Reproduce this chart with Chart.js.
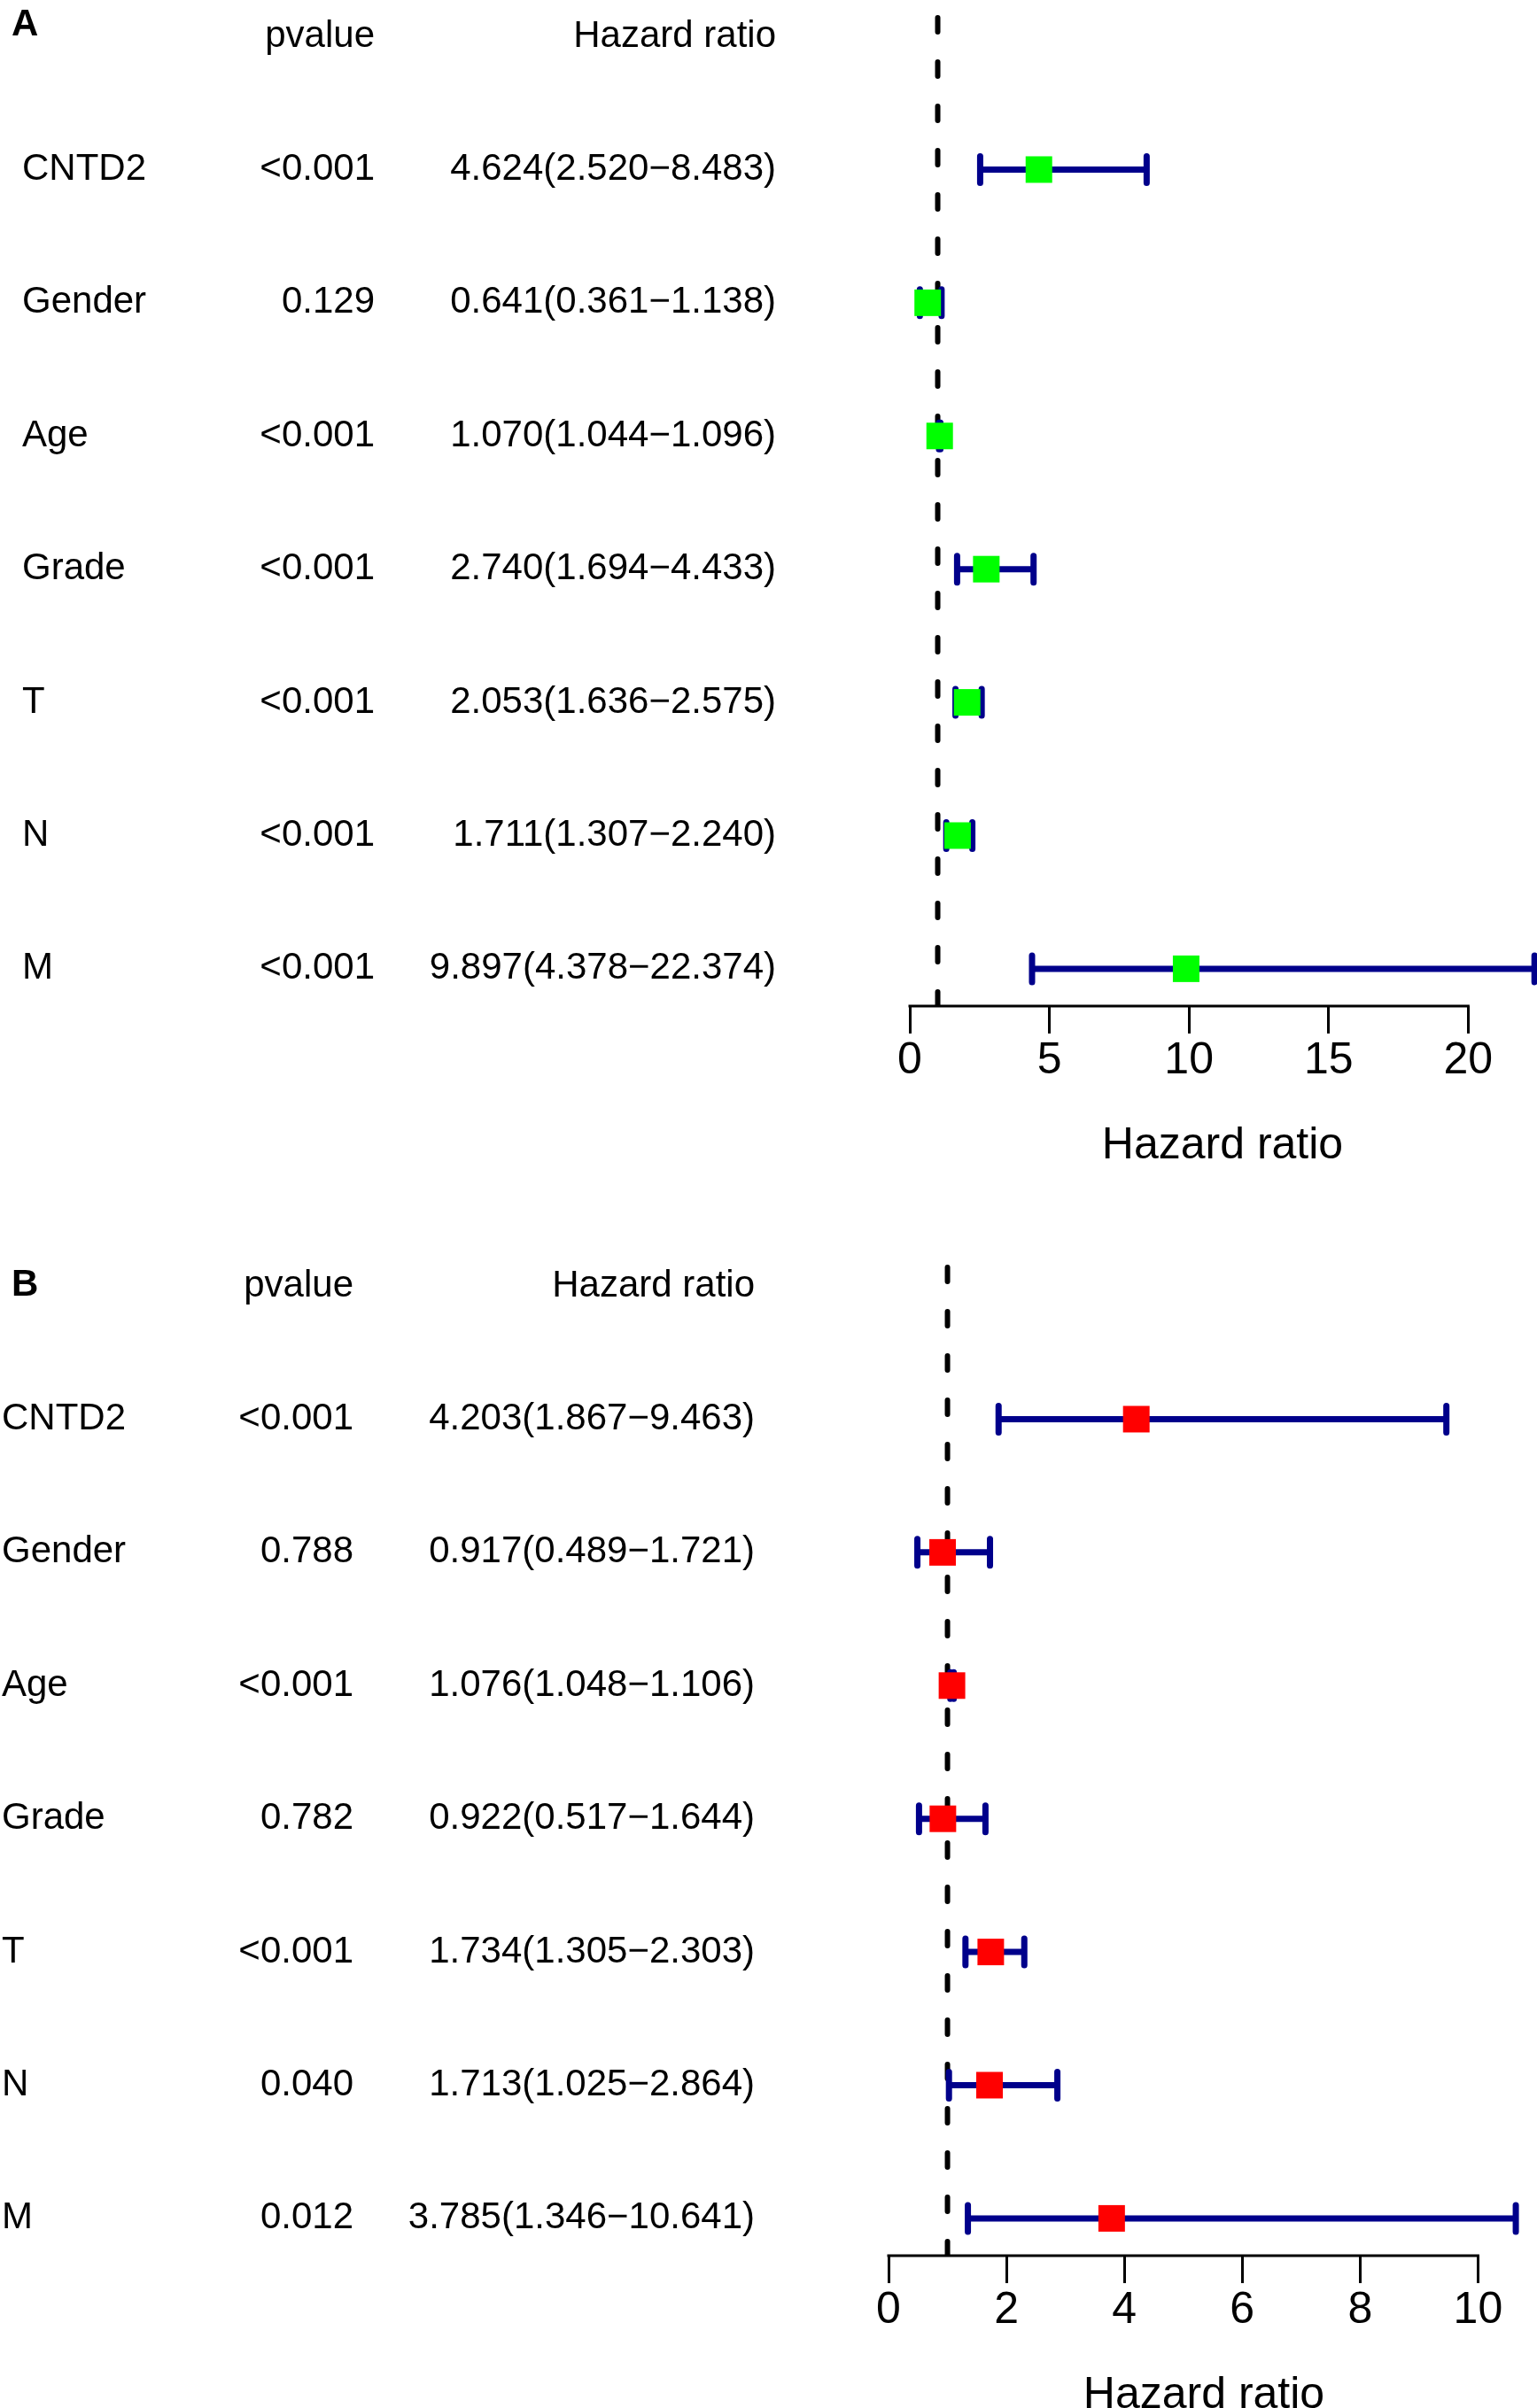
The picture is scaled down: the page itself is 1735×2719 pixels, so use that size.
<!DOCTYPE html>
<html>
<head>
<meta charset="utf-8">
<script src="https://cdn.jsdelivr.net/npm/chart.js@4.4.1/dist/chart.umd.min.js"></script>
<style>
  html, body { margin: 0; padding: 0; background: #fff; overflow: hidden; }
  .panel { position: absolute; left: 0; width: 1735px; height: 1409px; }
  #wrapA { top: 0; }
  #wrapB { top: 1411px; }
</style>
</head>
<body>
<div class="panel" id="wrapA"><canvas id="chartA" width="1735" height="1409"></canvas></div>
<div class="panel" id="wrapB"><canvas id="chartB" width="1735" height="1409"></canvas></div>
<script>
// rows, same for both panels
const genes = ["CNTD2", "Gender", "Age", "Grade", "T", "N", "M"];

// panel A (univariate)
const pvalA = ["<0.001", "0.129", "<0.001", "<0.001", "<0.001", "<0.001", "<0.001"];
const hrA = [4.624, 0.641, 1.070, 2.740, 2.053, 1.711, 9.897];
const lowA = [2.520, 0.361, 1.044, 1.694, 1.636, 1.307, 4.378];
const highA = [8.483, 1.138, 1.096, 4.433, 2.575, 2.240, 22.374];
const ticksA = [0, 5, 10, 15, 20];

// panel B (multivariate)
const pvalB = ["<0.001", "0.788", "<0.001", "0.782", "<0.001", "0.040", "0.012"];
const hrB = [4.203, 0.917, 1.076, 0.922, 1.734, 1.713, 3.785];
const lowB = [1.867, 0.489, 1.048, 0.517, 1.305, 1.025, 1.346];
const highB = [9.463, 1.721, 1.106, 1.644, 2.303, 2.864, 10.641];
const ticksB = [0, 2, 4, 6, 8, 10];

const FONT = '"Liberation Sans", Arial, Helvetica, sans-serif';
const Y_TOP = -0.16;
const Y_BOTTOM = 7.28;

function hrText(hr, low, high) {
  return hr.map((v, i) => v.toFixed(3) + "(" + low[i].toFixed(3) + "\u2212" + high[i].toFixed(3) + ")");
}

const forestPlugin = {
  id: "forest",
  beforeDatasetDraw(chart, args, o) {
    if (args.index !== 1) return;
    const ctx = chart.ctx;
    const xs = chart.scales.x;
    const ys = chart.scales.y;
    ctx.save();
    ctx.strokeStyle = "#00008B";
    ctx.lineWidth = 7;
    for (let i = 0; i < o.low.length; i++) {
      const yp = ys.getPixelForValue(i + 1);
      const x1 = xs.getPixelForValue(o.low[i]);
      const x2 = xs.getPixelForValue(o.high[i]);
      ctx.lineCap = "butt";
      ctx.beginPath();
      ctx.moveTo(x1, yp);
      ctx.lineTo(x2, yp);
      ctx.stroke();
      ctx.lineCap = "round";
      ctx.beginPath();
      ctx.moveTo(x1, yp - 15);
      ctx.lineTo(x1, yp + 15);
      ctx.moveTo(x2, yp - 15);
      ctx.lineTo(x2, yp + 15);
      ctx.stroke();
    }
    ctx.restore();
  },
  afterDraw(chart, args, o) {
    const ctx = chart.ctx;
    const xs = chart.scales.x;
    const ys = chart.scales.y;
    ctx.save();
    // axis line from first to last tick
    const bottom = chart.chartArea.bottom;
    ctx.strokeStyle = "#000";
    ctx.lineWidth = 3;
    ctx.lineCap = "butt";
    ctx.beginPath();
    ctx.moveTo(xs.getPixelForValue(o.ticks[0]) - 1.5, bottom);
    ctx.lineTo(xs.getPixelForValue(o.ticks[o.ticks.length - 1]) + 1.5, bottom);
    ctx.stroke();

    // text columns
    ctx.fillStyle = "#000";
    ctx.textBaseline = "middle";
    ctx.font = "bold 42px " + FONT;
    ctx.textAlign = "left";
    ctx.fillText(o.letter, 13, o.letterY);

    ctx.font = "42px " + FONT;
    const yh = ys.getPixelForValue(0);
    ctx.textAlign = "right";
    ctx.fillText("pvalue", o.colP, yh);
    ctx.fillText("Hazard ratio", o.colHR, yh);
    for (let i = 0; i < o.names.length; i++) {
      const yp = ys.getPixelForValue(i + 1);
      ctx.textAlign = "left";
      ctx.fillText(o.names[i], o.colName, yp);
      ctx.textAlign = "right";
      ctx.fillText(o.pvals[i], o.colP, yp);
      ctx.fillText(o.hrs[i], o.colHR, yp);
    }
    ctx.restore();
  }
};

function renderForest(canvasId, p) {
  const dashData = [{ x: 1, y: Y_TOP + 0.02 }, { x: 1, y: Y_BOTTOM }];
  const boxData = p.hr.map((v, i) => ({ x: v, y: i + 1 }));
  const config = {
    type: "scatter",
    data: {
      datasets: [
        {
          type: "line",
          data: dashData,
          borderColor: "#000",
          borderWidth: 6,
          borderDash: [16, 34],
          borderCapStyle: "round",
          pointRadius: 0,
          fill: false,
          order: 2
        },
        {
          data: boxData,
          pointStyle: "rect",
          pointRadius: 21.2,
          pointHoverRadius: 21.2,
          backgroundColor: p.color,
          borderWidth: 0,
          order: 0
        }
      ]
    },
    options: {
      responsive: false,
      animation: false,
      devicePixelRatio: 1,
      layout: { autoPadding: false, padding: { left: p.plotLeft, right: p.padRight, top: 17, bottom: 85 } },
      plugins: {
        legend: { display: false },
        tooltip: { enabled: false },
        forest: {
          low: p.low, high: p.high, ticks: p.ticks,
          names: genes, pvals: p.pval, hrs: hrText(p.hr, p.low, p.high),
          letter: p.letter, letterY: p.letterY,
          colName: p.colName, colP: p.colP, colHR: p.colHR
        }
      },
      scales: {
        x: {
          type: "linear",
          min: 0,
          max: p.xMax,
          border: { display: false },
          grid: { drawOnChartArea: false, drawTicks: true, tickLength: 31, color: "#000", lineWidth: 3 },
          ticks: { color: "#000", font: { size: 50, family: FONT }, padding: 1, maxRotation: 0, autoSkip: false },
          afterBuildTicks: (scale) => { scale.ticks = p.ticks.map((v) => ({ value: v })); },
          title: { display: true, text: "Hazard ratio", color: "#000", font: { size: 50, family: FONT }, padding: { top: 35, bottom: 0 } }
        },
        y: {
          type: "linear",
          display: false,
          reverse: true,
          min: Y_TOP,
          max: Y_BOTTOM
        }
      }
    },
    plugins: [forestPlugin]
  };
  return new Chart(document.getElementById(canvasId), config);
}

renderForest("chartA", {
  hr: hrA, low: lowA, high: highA, pval: pvalA, ticks: ticksA,
  color: "#00FF00", xMax: 22.4, plotLeft: 1027, padRight: 2,
  letter: "A", letterY: 28, colName: 25, colP: 423, colHR: 876
});

renderForest("chartB", {
  hr: hrB, low: lowB, high: highB, pval: pvalB, ticks: ticksB,
  color: "#FF0000", xMax: 10.7, plotLeft: 1003, padRight: 20,
  letter: "B", letterY: 40, colName: 2, colP: 399, colHR: 852
});
</script>
</body>
</html>
